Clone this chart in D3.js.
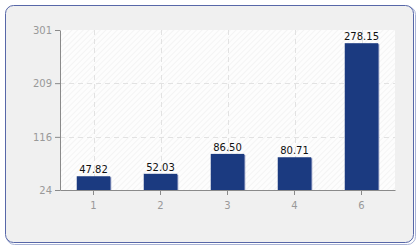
<!DOCTYPE html>
<html>
<head>
<meta charset="utf-8">
<script src="https://cdn.jsdelivr.net/npm/d3@7"></script>
<style>
  body { margin: 0; background: #fff; }
  svg text { font-family: "DejaVu Sans", Verdana, sans-serif; }
</style>
</head>
<body>
<svg id="chart" width="420" height="250"></svg>
<script>
// data
const categories = ["1", "2", "3", "4", "6"];
const values = [47.82, 52.03, 86.50, 80.71, 278.15];
const yTicks = [24, 116, 209, 301];

const svg = d3.select("#chart");
const width = 420, height = 250;
const margin = { top: 30, right: 25, bottom: 60, left: 60 };
const innerW = width - margin.left - margin.right;
const innerH = height - margin.top - margin.bottom;

// hatch pattern for plot bg
const defs = svg.append("defs");
const pat = defs.append("pattern")
    .attr("id", "hatch")
    .attr("width", 4).attr("height", 4)
    .attr("patternUnits", "userSpaceOnUse")
    .attr("patternTransform", "rotate(45)");
pat.append("rect").attr("width", 4).attr("height", 4).attr("fill", "#fdfdfd");
pat.append("line").attr("x1", 0).attr("y1", 0).attr("x2", 0).attr("y2", 4)
    .attr("stroke", "#ececec").attr("stroke-width", 1);

// outer box with shadow
svg.append("rect")
    .attr("x", 6.5).attr("y", 6.5).attr("width", 409).attr("height", 238)
    .attr("rx", 8).attr("fill", "none").attr("stroke", "#a9b3d6").attr("stroke-width", 1);
svg.append("rect")
    .attr("x", 5.5).attr("y", 5.5).attr("width", 408).attr("height", 237)
    .attr("rx", 8).attr("fill", "#f0f0f0").attr("stroke", "#5767a8").attr("stroke-width", 1);

const g = svg.append("g").attr("transform", `translate(${margin.left},${margin.top})`);

const x = d3.scaleBand().domain(categories).range([0, innerW])
    .paddingInner(0.5).paddingOuter(0.25);
const y = d3.scaleLinear().domain([24, 301]).range([innerH, 0]);

g.append("rect").attr("width", innerW).attr("height", innerH).attr("fill", "url(#hatch)");

// grid
g.selectAll("line.hgrid").data(yTicks.slice(1, 3)).enter().append("line")
    .attr("class", "hgrid")
    .attr("x1", 0).attr("x2", innerW)
    .attr("y1", d => Math.round(y(d)) + 0.5).attr("y2", d => Math.round(y(d)) + 0.5)
    .attr("stroke", "#e2e2e2").attr("stroke-dasharray", "5,4");
g.selectAll("line.vgrid").data(categories).enter().append("line")
    .attr("class", "vgrid")
    .attr("x1", d => Math.round(x(d) + x.bandwidth() / 2) + 0.5)
    .attr("x2", d => Math.round(x(d) + x.bandwidth() / 2) + 0.5)
    .attr("y1", 0).attr("y2", innerH)
    .attr("stroke", "#e2e2e2").attr("stroke-dasharray", "5,4");

// bars (with small shadow)
g.selectAll("rect.shadow").data(values).enter().append("rect")
    .attr("class", "shadow")
    .attr("x", (d, i) => x(categories[i]) + 1)
    .attr("y", d => y(d) + 1)
    .attr("width", x.bandwidth())
    .attr("height", d => innerH - y(d) - 1)
    .attr("fill", "#7f8db8");
g.selectAll("rect.bar").data(values).enter().append("rect")
    .attr("class", "bar")
    .attr("x", (d, i) => x(categories[i]))
    .attr("y", d => y(d))
    .attr("width", x.bandwidth())
    .attr("height", d => innerH - y(d))
    .attr("fill", "#1b3a80");

g.selectAll("text.val").data(values).enter().append("text")
    .attr("class", "val")
    .attr("x", (d, i) => x(categories[i]) + x.bandwidth() / 2)
    .attr("y", d => y(d) - 3)
    .attr("text-anchor", "middle")
    .attr("font-size", 10)
    .attr("fill", "#111")
    .text(d => d.toFixed(2));

// axes
const xAxis = d3.axisBottom(x).tickSize(5).tickSizeOuter(0);
const yAxis = d3.axisLeft(y).tickValues(yTicks).tickSize(5).tickSizeOuter(0);

const xg = g.append("g").attr("transform", `translate(0,${innerH})`).call(xAxis);
const yg = g.append("g").call(yAxis);
[xg, yg].forEach(a => {
  a.select(".domain").attr("stroke", "#8a8a8a");
  a.selectAll(".tick line").attr("stroke", "#8a8a8a");
  a.selectAll(".tick text").attr("fill", "#999").attr("font-size", 10)
    .attr("font-family", "DejaVu Sans, sans-serif");
});
xg.selectAll(".tick text").attr("dy", "1.1em");
</script>
</body>
</html>
